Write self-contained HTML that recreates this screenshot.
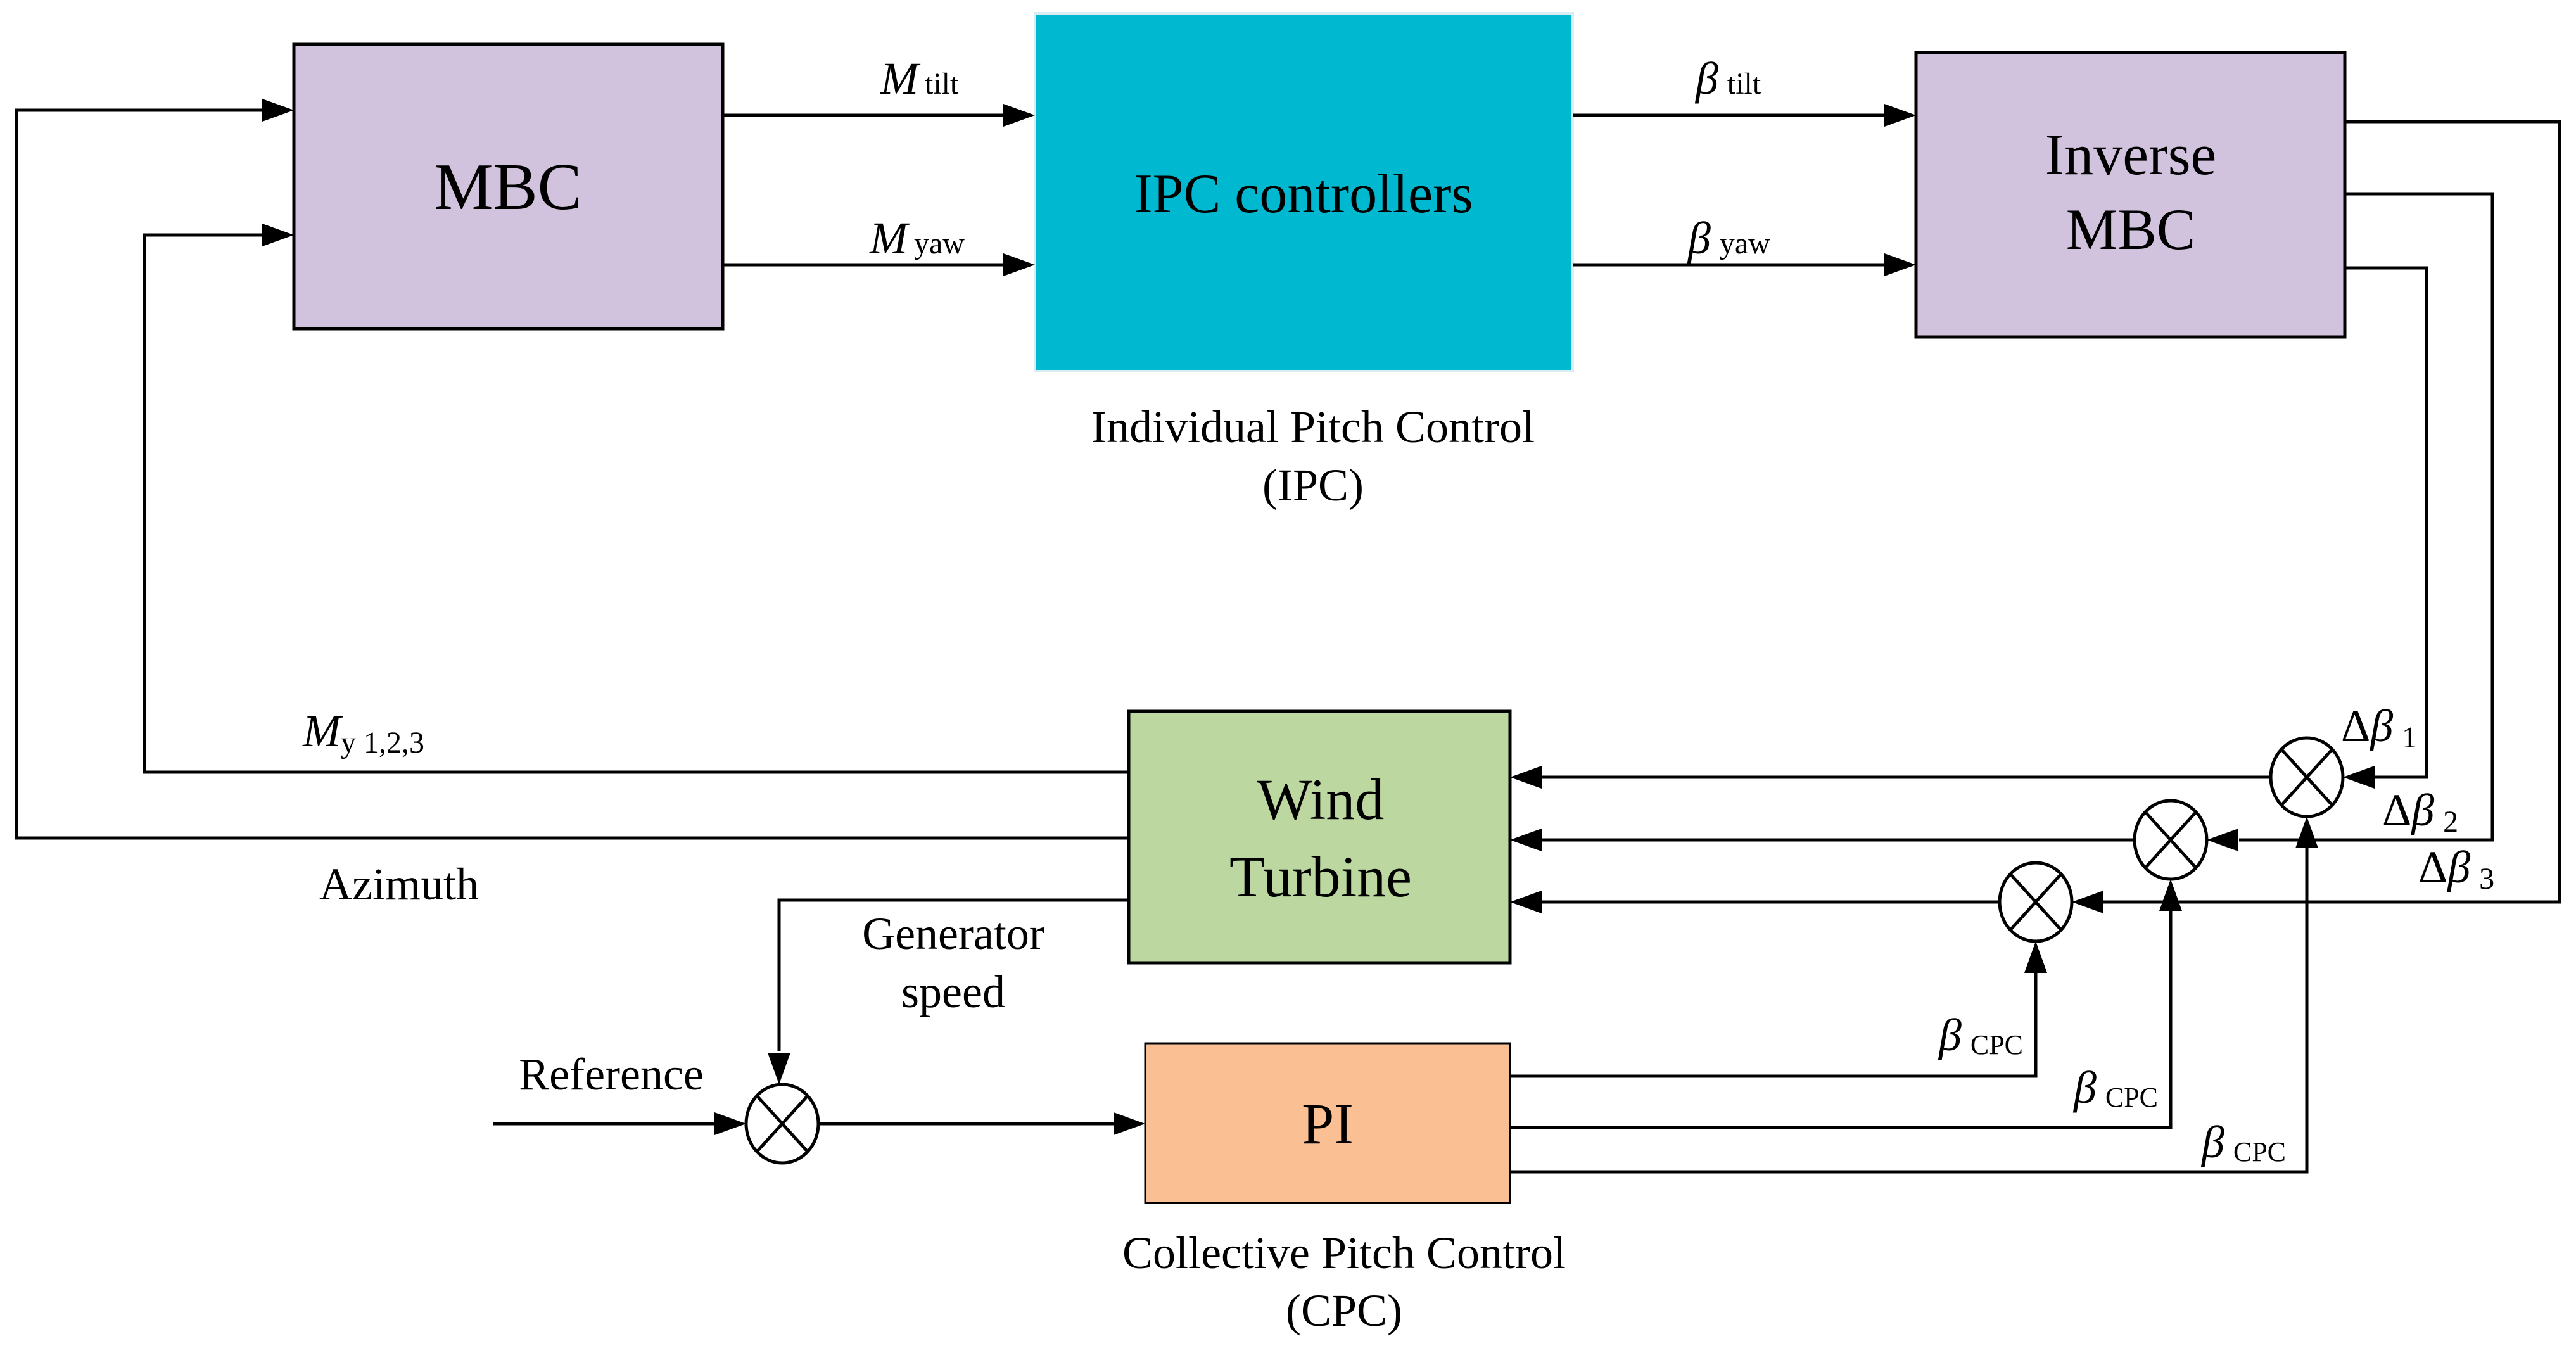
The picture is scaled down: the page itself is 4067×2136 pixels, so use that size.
<!DOCTYPE html>
<html><head><meta charset="utf-8"><style>
html,body{margin:0;padding:0;background:#fff;}
svg{display:block;}
text{font-family:"Liberation Serif",serif;fill:#000;}
</style></head><body>
<svg width="4067" height="2136" viewBox="0 0 4067 2136" xmlns="http://www.w3.org/2000/svg">
<defs>
<marker id="a" markerWidth="10" markerHeight="8" refX="10" refY="4" orient="auto" markerUnits="userSpaceOnUse" viewBox="0 0 10 8" style="overflow:visible">
</marker>
</defs>
<g stroke="#000" stroke-width="5" fill="none">
<!-- boxes -->
<rect x="464" y="70" width="677" height="449" fill="#D1C2DD"/>
<rect x="3025" y="83" width="677" height="449" fill="#D1C2DD"/>
<rect x="1782" y="1123" width="602" height="397" fill="#BCD79F"/>
<rect x="1808" y="1647" width="576" height="252" fill="#FAC093" stroke-width="3"/>
</g>
<rect x="1634" y="21" width="849" height="565" fill="#00B8D0" stroke="#d8eef2" stroke-width="4"/>
<g stroke="#000" stroke-width="5" fill="none">
<!-- top arrows -->
<line x1="1141" y1="182" x2="1590" y2="182"/>
<line x1="1141" y1="418" x2="1590" y2="418"/>
<line x1="2483" y1="182" x2="2980" y2="182"/>
<line x1="2483" y1="418" x2="2980" y2="418"/>
<!-- azimuth -->
<polyline points="1782,1323 26,1323 26,174 420,174"/>
<!-- My -->
<polyline points="1782,1219 228,1219 228,371 420,371"/>
<!-- generator speed -->
<polyline points="1782,1421 1230,1421 1230,1660"/>
<!-- reference -->
<line x1="778" y1="1774" x2="1135" y2="1774"/>
<line x1="1292" y1="1774" x2="1765" y2="1774"/>
<!-- PI outputs -->
<polyline points="2384,1699 3214,1699 3214,1530"/>
<polyline points="2384,1780 3427,1780 3427,1432"/>
<polyline points="2384,1850 3642,1850 3642,1333"/>
<!-- Inverse MBC outputs -->
<polyline points="3702,192 4041,192 4041,1424 3320,1424"/>
<polyline points="3702,306 3935,306 3935,1326 3535,1326"/>
<polyline points="3702,423 3831,423 3831,1227 3745,1227"/>
<!-- circles to WT -->
<line x1="3157" y1="1424" x2="2425" y2="1424"/>
<line x1="3370" y1="1326" x2="2425" y2="1326"/>
<line x1="3585" y1="1227" x2="2425" y2="1227"/>
</g>
<!-- arrowheads -->
<g fill="#000">
<polygon points="1634,182 1584,164 1584,200"/>
<polygon points="1634,418 1584,400 1584,436"/>
<polygon points="3025,182 2975,164 2975,200"/>
<polygon points="3025,418 2975,400 2975,436"/>
<polygon points="464,174 414,156 414,192"/>
<polygon points="464,371 414,353 414,389"/>
<polygon points="2384,1227 2434,1209 2434,1245"/>
<polygon points="2384,1326 2434,1308 2434,1344"/>
<polygon points="2384,1424 2434,1406 2434,1442"/>
<polygon points="1230,1712 1212,1662 1248,1662"/>
<polygon points="1178,1774 1128,1756 1128,1792"/>
<polygon points="1808,1774 1758,1756 1758,1792"/>
<polygon points="3271,1424 3321,1406 3321,1442"/>
<polygon points="3484,1326 3534,1308 3534,1344"/>
<polygon points="3699,1227 3749,1209 3749,1245"/>
<polygon points="3214,1486 3196,1536 3232,1536"/>
<polygon points="3427,1388 3409,1438 3445,1438"/>
<polygon points="3642,1289 3624,1339 3660,1339"/>
</g>
<!-- summing junctions -->
<g stroke="#000" stroke-width="5" fill="#fff">
<ellipse cx="1235" cy="1774" rx="57" ry="62"/>
<ellipse cx="3214" cy="1424" rx="57" ry="62"/>
<ellipse cx="3427" cy="1326" rx="57" ry="62"/>
<ellipse cx="3642" cy="1227" rx="57" ry="62"/>
</g>
<g stroke="#000" stroke-width="5">
<path d="M1195,1730 L1275,1818 M1275,1730 L1195,1818"/>
<path d="M3174,1380 L3254,1468 M3254,1380 L3174,1468"/>
<path d="M3387,1282 L3467,1370 M3467,1282 L3387,1370"/>
<path d="M3602,1183 L3682,1271 M3682,1183 L3602,1271"/>
</g>
<!-- text -->
<g text-anchor="middle">
<text x="802" y="330" font-size="105">MBC</text>
<text x="2058" y="335" font-size="88">IPC controllers</text>
<text x="3364" y="275" font-size="92">Inverse</text>
<text x="3364" y="393" font-size="92">MBC</text>
<text x="2085" y="1293" font-size="92">Wind</text>
<text x="2085" y="1415" font-size="92">Turbine</text>
<text x="2096" y="1805" font-size="92">PI</text>
<text x="2073" y="698" font-size="72">Individual Pitch Control</text>
<text x="2073" y="790" font-size="72">(IPC)</text>
<text x="2122" y="2002" font-size="72">Collective Pitch Control</text>
<text x="2122" y="2093" font-size="72">(CPC)</text>
<text x="630" y="1420" font-size="72">Azimuth</text>
<text x="1505" y="1498" font-size="72">Generator</text>
<text x="1505" y="1590" font-size="72">speed</text>
<text x="965" y="1720" font-size="72">Reference</text>
</g>
<g font-size="72">
<text x="1390" y="148"><tspan font-style="italic">M</tspan><tspan font-size="48" dx="10">tilt</tspan></text>
<text x="1373" y="400"><tspan font-style="italic">M</tspan><tspan font-size="48" dx="10">yaw</tspan></text>
<text x="2677" y="148"><tspan font-style="italic">β</tspan><tspan font-size="48" dx="14">tilt</tspan></text>
<text x="2665" y="400"><tspan font-style="italic">β</tspan><tspan font-size="48" dx="14">yaw</tspan></text>
<text x="478" y="1178"><tspan font-style="italic">M</tspan><tspan font-size="48" dy="10">y 1,2,3</tspan></text>
<text x="3696" y="1170">Δ<tspan font-style="italic">β</tspan><tspan font-size="48" dx="14" dy="10">1</tspan></text>
<text x="3761" y="1303">Δ<tspan font-style="italic">β</tspan><tspan font-size="48" dx="14" dy="10">2</tspan></text>
<text x="3818" y="1393">Δ<tspan font-style="italic">β</tspan><tspan font-size="48" dx="14" dy="10">3</tspan></text>
<text x="3061" y="1658"><tspan font-style="italic">β</tspan><tspan font-size="44" dx="14" dy="6">CPC</tspan></text>
<text x="3274" y="1741"><tspan font-style="italic">β</tspan><tspan font-size="44" dx="14" dy="6">CPC</tspan></text>
<text x="3476" y="1827"><tspan font-style="italic">β</tspan><tspan font-size="44" dx="14" dy="6">CPC</tspan></text>
</g>
</svg>
</body></html>
